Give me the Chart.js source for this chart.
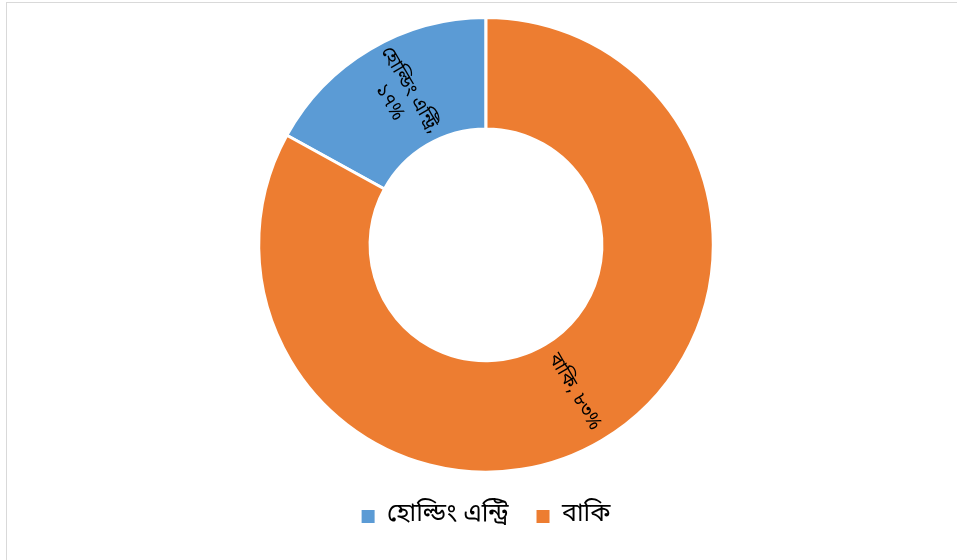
<!DOCTYPE html>
<html>
<head>
<meta charset="utf-8">
<script src="https://cdn.jsdelivr.net/npm/chart.js@4"></script>
<style>
    html, body { margin: 0; padding: 0; background: #fff; overflow: hidden; }
    #wrap { position: relative; width: 957px; height: 560px; }
    #frame {
        position: absolute; left: 6px; top: 2px; width: 1000px; height: 600px;
        border-top: 1px solid #d9d9d9; border-left: 1px solid #d9d9d9;
    }
    canvas { position: absolute; left: 0; top: 0; }
</style>
</head>
<body>
<div id="wrap">
    <div id="frame"></div>
    <canvas id="donutChart" width="957" height="560"></canvas>
</div>
<script>
const categories = ['হোল্ডিং এন্ট্রি', 'বাকি'];
const shares = [17, 83];
const sliceColors = ['#5B9BD5', '#ED7D31'];

const bnDigits = ['০', '১', '২', '৩', '৪', '৫', '৬', '৭', '৮', '৯'];
function toBengali(n) {
    return String(n).replace(/[0-9]/g, d => bnDigits[d]);
}

const bnFont = "'Noto Sans Bengali', 'Vrinda', 'Noto Sans', sans-serif";

// Draw the rotated "name, value%" labels inside each slice
const sliceLabels = {
    id: 'sliceLabels',
    afterDatasetsDraw(chart) {
        const ctx = chart.ctx;
        const meta = chart.getDatasetMeta(0);
        meta.data.forEach((arc, i) => {
            const p = arc.getProps(['x', 'y', 'startAngle', 'endAngle', 'innerRadius', 'outerRadius'], true);
            const mid = (p.startAngle + p.endAngle) / 2;
            const r = (p.innerRadius + p.outerRadius) / 2;
            const x = p.x + Math.cos(mid) * r;
            const y = p.y + Math.sin(mid) * r;
            let rot = mid % (2 * Math.PI);
            if (rot > Math.PI) rot -= 2 * Math.PI;
            if (rot < -Math.PI) rot += 2 * Math.PI;
            if (rot > Math.PI / 2) rot -= Math.PI;
            if (rot < -Math.PI / 2) rot += Math.PI;

            const pct = toBengali(shares[i]) + '%';
            const lines = i === 0 ? [categories[i] + ',', pct] : [categories[i] + ', ' + pct];

            ctx.save();
            ctx.translate(x, y);
            ctx.rotate(rot);
            ctx.fillStyle = '#000';
            ctx.font = '19px ' + bnFont;
            ctx.textAlign = 'center';
            ctx.textBaseline = 'middle';
            const lh = 24;
            lines.forEach((line, k) => {
                ctx.fillText(line, 0, (k - (lines.length - 1) / 2) * lh);
            });
            ctx.restore();
        });
    }
};

const total = shares.reduce((a, b) => a + b, 0);

new Chart(document.getElementById('donutChart').getContext('2d'), {
    type: 'doughnut',
    data: {
        labels: categories,
        datasets: [{
            data: shares,
            backgroundColor: sliceColors,
            borderColor: '#ffffff',
            borderWidth: 3
        }]
    },
    options: {
        responsive: false,
        animation: false,
        cutout: '51%',
        rotation: -shares[0] / total * 360,
        layout: { padding: { top: 16, bottom: 21, left: 15, right: 0 } },
        plugins: {
            legend: {
                position: 'bottom',
                // empty title only adds a little space above the items
                title: { display: true, text: ' ', font: { size: 2 }, padding: 0 },
                labels: {
                    boxWidth: 13,
                    boxHeight: 13,
                    padding: 28,
                    color: '#000',
                    font: { size: 25, family: bnFont },
                    generateLabels(chart) {
                        const items = Chart.overrides.doughnut.plugins.legend.labels.generateLabels(chart);
                        items.forEach(it => { it.lineWidth = 0; });
                        return items;
                    }
                }
            },
            tooltip: { enabled: false }
        }
    },
    plugins: [sliceLabels]
});
</script>
</body>
</html>
